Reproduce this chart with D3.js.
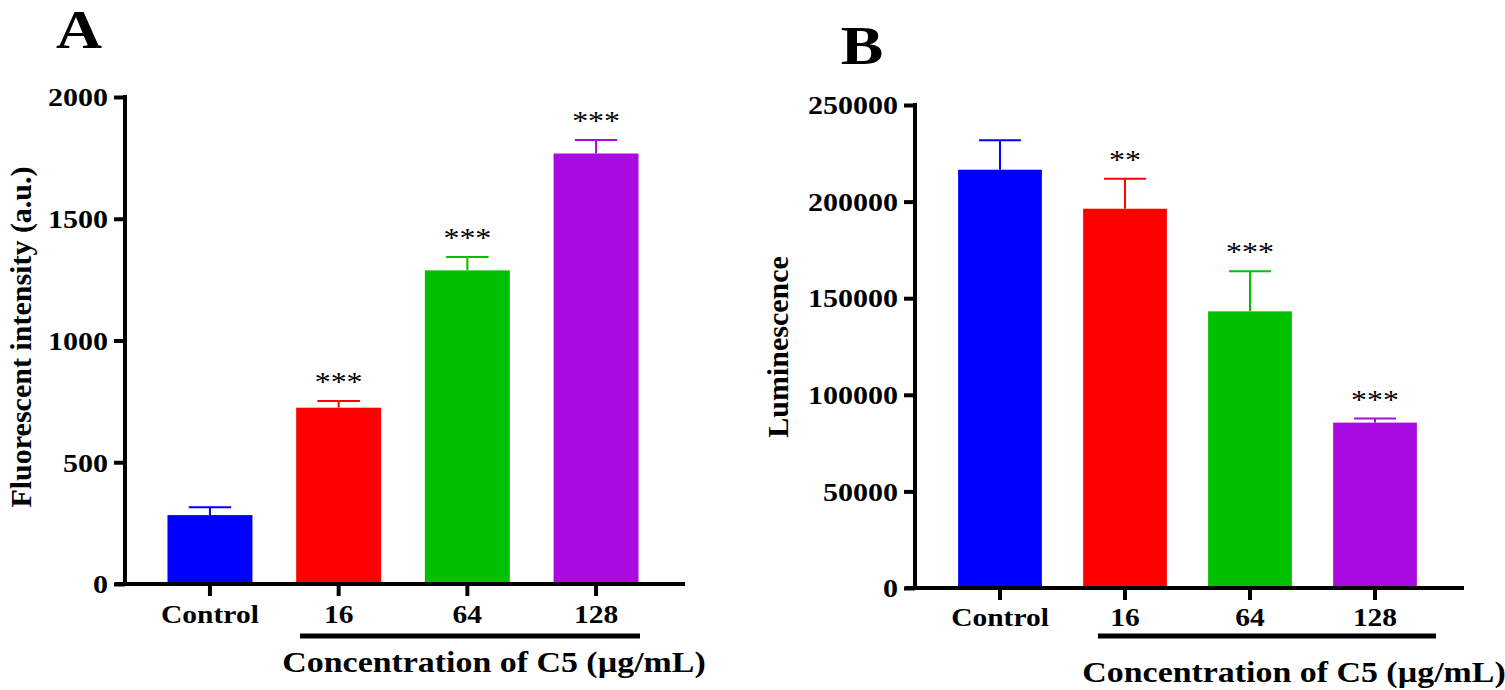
<!DOCTYPE html>
<html>
<head>
<meta charset="utf-8">
<script src="https://cdn.jsdelivr.net/npm/d3@7"></script>
<style>
  body { margin: 0; background: #fff; }
  svg text { font-family: "Liberation Serif", "Times New Roman", serif; fill: #000; }
  .tick text { font-weight: bold; }
</style>
</head>
<body>
<div id="chart"></div>
<script>
// groups shared by both panels
var categories = ["Control", "16", "64", "128"];
var barColors = ["#0000ff", "#ff0000", "#00c000", "#a90ae0"];

// panel A - fluorescent intensity
var fluorMeans = [283, 724, 1288, 1768];
var fluorErrors = [32, 28, 55, 55];
var fluorStars = ["", "***", "***", "***"];
var fluorTicks = [0, 500, 1000, 1500, 2000];

// panel B - luminescence
var lumMeans = [216500, 196300, 143200, 85600];
var lumErrors = [15300, 15500, 20700, 2100];
var lumStars = ["", "**", "***", "***"];
var lumTicks = [0, 50000, 100000, 150000, 200000, 250000];

// the original figure is a bit wider than tall, so stretch text horizontally
var stretch = 1.18;

var svg = d3.select("#chart").append("svg")
    .attr("width", 1505)
    .attr("height", 690);

drawPanel({
    letter: "A", letterX: 79, letterY: 48,
    means: fluorMeans, errors: fluorErrors, stars: fluorStars, ticks: fluorTicks,
    yMax: 2000, axisX: 125, top: 97, bottom: 584,
    xRange: [145.6, 660.4], pad: 0.34,
    axisStart: 115, axisEnd: 685,
    catY: 623, lineX: [300, 640], lineY: 636,
    titleX: 494, titleY: 672,
    yTitle: "Fluorescent intensity (a.u.)", yTitleSize: 30, yTitleX: 20, yTitleY: 337
});

drawPanel({
    letter: "B", letterX: 862, letterY: 64,
    means: lumMeans, errors: lumErrors, stars: lumStars, ticks: lumTicks,
    yMax: 250000, axisX: 915, top: 105, bottom: 588,
    xRange: [937.5, 1437.5], pad: 0.33,
    axisStart: 905, axisEnd: 1464,
    catY: 626, lineX: [1098, 1436], lineY: 636,
    titleX: 1294, titleY: 682,
    yTitle: "Luminescence", yTitleSize: 30, yTitleX: 777, yTitleY: 347
});

function drawPanel(p) {
    var g = svg.append("g");

    var x = d3.scaleBand()
        .domain(categories)
        .range(p.xRange)
        .paddingInner(p.pad)
        .paddingOuter(p.pad / 2);

    var y = d3.scaleLinear()
        .domain([0, p.yMax])
        .range([p.bottom, p.top]);

    var data = categories.map(function (c, i) {
        return { cat: c, mean: p.means[i], err: p.errors[i], star: p.stars[i], color: barColors[i] };
    });

    // error bars (upper only) drawn first, bars on top
    var eb = g.selectAll(".err")
        .data(data)
        .enter()
        .append("g")
        .attr("stroke", d => d.color)
        .attr("stroke-width", 2);
    eb.append("line")
        .attr("x1", d => x(d.cat) + x.bandwidth() / 2)
        .attr("x2", d => x(d.cat) + x.bandwidth() / 2)
        .attr("y1", d => y(d.mean))
        .attr("y2", d => y(d.mean + d.err));
    eb.append("line")
        .attr("x1", d => x(d.cat) + x.bandwidth() / 4)
        .attr("x2", d => x(d.cat) + x.bandwidth() * 3 / 4)
        .attr("y1", d => y(d.mean + d.err))
        .attr("y2", d => y(d.mean + d.err));

    g.selectAll(".bar")
        .data(data)
        .enter()
        .append("rect")
        .attr("x", d => x(d.cat))
        .attr("width", x.bandwidth())
        .attr("y", d => y(d.mean))
        .attr("height", d => y(0) - y(d.mean))
        .attr("fill", d => d.color);

    // significance stars
    g.selectAll(".star")
        .data(data)
        .enter()
        .append("text")
        .attr("transform", d => `translate(${x(d.cat) + x.bandwidth() / 2},${y(d.mean + d.err) - 10}) scale(${stretch},1)`)
        .attr("text-anchor", "middle")
        .style("font-size", "27px")
        .text(d => d.star);

    // y axis
    var leftAxis = d3.axisLeft(y)
        .tickValues(p.ticks)
        .tickFormat(d3.format("d"))
        .tickSize(11)
        .tickSizeOuter(0)
        .tickPadding(6);
    var ya = g.append("g")
        .attr("transform", `translate(${p.axisX},0)`)
        .call(leftAxis);
    ya.select(".domain").remove();
    ya.selectAll(".tick line").attr("stroke-width", 4).attr("stroke", "#000");
    ya.selectAll(".tick text")
        .style("font-size", "25px")
        .attr("dy", "0.35em")
        .attr("x", -17 / 1.2)
        .attr("transform", "scale(1.2,1)");
    ya.append("line")
        .attr("x1", 0).attr("x2", 0)
        .attr("y1", p.top - 2).attr("y2", p.bottom)
        .attr("stroke", "#000").attr("stroke-width", 4);

    // x axis
    var bottomAxis = d3.axisBottom(x)
        .tickSize(12)
        .tickSizeOuter(0)
        .tickPadding(14);
    var xa = g.append("g")
        .attr("transform", `translate(0,${p.bottom})`)
        .call(bottomAxis);
    xa.select(".domain").remove();
    xa.selectAll(".tick line").attr("stroke-width", 4).attr("stroke", "#000");
    xa.selectAll(".tick text")
        .style("font-size", "25px")
        .attr("dy", null)
        .attr("y", p.catY - p.bottom)
        .attr("transform", `scale(${stretch},1)`);
    xa.append("line")
        .attr("x1", p.axisStart).attr("x2", p.axisEnd)
        .attr("y1", 0).attr("y2", 0)
        .attr("stroke", "#000").attr("stroke-width", 4);

    // bracket line under the concentrations
    g.append("line")
        .attr("x1", p.lineX[0]).attr("x2", p.lineX[1])
        .attr("y1", p.lineY).attr("y2", p.lineY)
        .attr("stroke", "#000").attr("stroke-width", 5);

    g.append("text")
        .attr("transform", `translate(${p.titleX},${p.titleY}) scale(1.13,1)`)
        .attr("text-anchor", "middle")
        .style("font-size", "30px")
        .style("font-weight", "bold")
        .text("Concentration of C5 (µg/mL)");

    g.append("text")
        .attr("transform", `translate(${p.yTitleX},${p.yTitleY}) rotate(-90)`)
        .attr("text-anchor", "middle")
        .attr("dy", "0.35em")
        .style("font-size", p.yTitleSize + "px")
        .style("font-weight", "bold")
        .text(p.yTitle);

    g.append("text")
        .attr("transform", `translate(${p.letterX},${p.letterY}) scale(${stretch},1)`)
        .attr("text-anchor", "middle")
        .style("font-size", "54px")
        .style("font-weight", "bold")
        .text(p.letter);
}
</script>
</body>
</html>
